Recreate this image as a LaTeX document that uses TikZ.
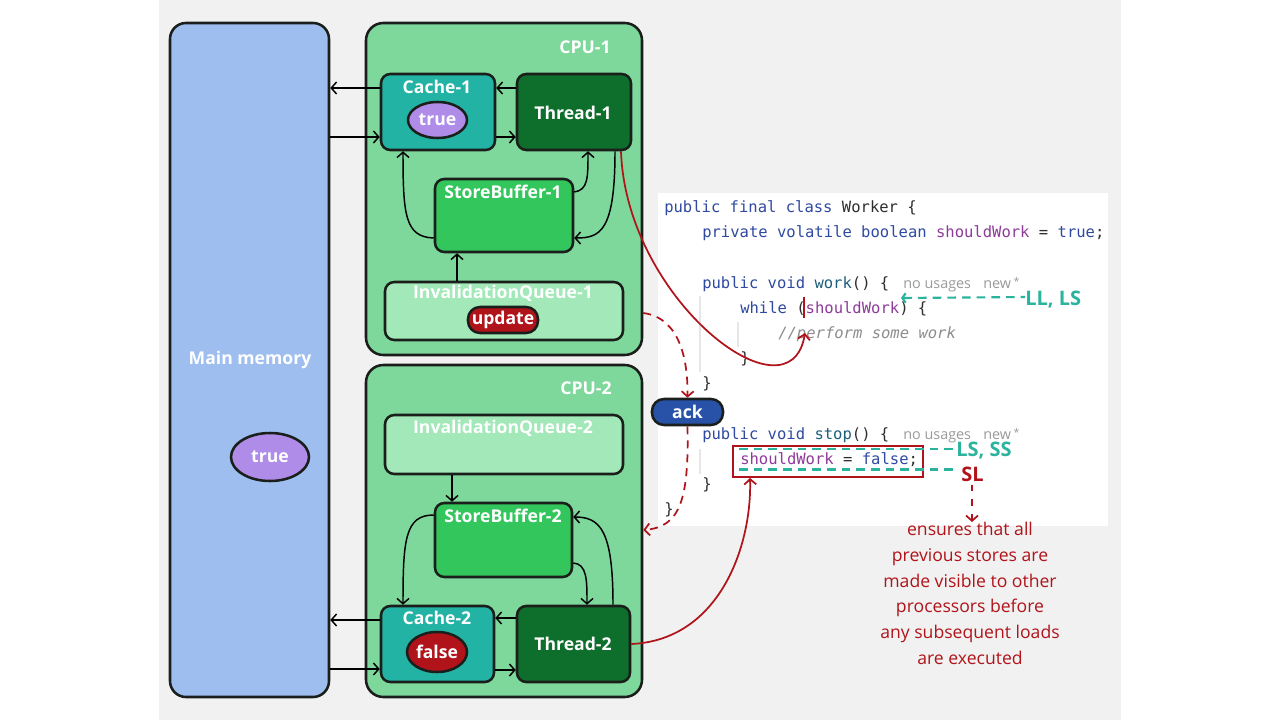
\documentclass[tikz,border=0pt]{standalone}
\usepackage{fontspec}
\setmainfont{Open Sans}
\setmonofont{DejaVu Sans Mono}
\usetikzlibrary{arrows.meta,shapes.geometric}
\definecolor{bgGray}{HTML}{F1F1F1}
\definecolor{memFill}{HTML}{9EBEF0}
\definecolor{cpuFill}{HTML}{7ED79B}
\definecolor{cacheFill}{HTML}{22B3A5}
\definecolor{threadFill}{HTML}{0E6F2C}
\definecolor{sbFill}{HTML}{33C65C}
\definecolor{iqFill}{HTML}{A2E8B8}
\definecolor{purpleFill}{HTML}{AE8CE8}
\definecolor{darkRed}{HTML}{B0141A}
\definecolor{ackBlue}{HTML}{2852A8}
\definecolor{edgeCol}{HTML}{1B1F1C}
\definecolor{kwBlue}{HTML}{2F4AA0}
\definecolor{fieldPurple}{HTML}{8E3B99}
\definecolor{methodTeal}{HTML}{1D5E7C}
\definecolor{codeDark}{HTML}{2E2E2E}
\definecolor{commentGray}{HTML}{8C8C8C}
\definecolor{hintGray}{HTML}{9A9A9A}
\definecolor{annTeal}{HTML}{2BB39E}
\definecolor{guideGray}{HTML}{E6E6E6}
\newcommand{\kw}[1]{\textcolor{kwBlue}{#1}}
\newcommand{\fld}[1]{\textcolor{fieldPurple}{#1}}
\newcommand{\mth}[1]{\textcolor{methodTeal}{#1}}
\begin{document}
\begin{tikzpicture}[x=0.75pt,y=-0.75pt,
  box/.style={draw=edgeCol, line width=1.9pt, rounded corners=7pt, inner sep=0pt},
  sz/.style 2 args={minimum width=#1*0.75pt, minimum height=#2*0.75pt},
  lbl/.style={text=white, font=\bfseries\fontsize{13.2}{16}\selectfont, inner sep=0pt},
  val/.style={draw=edgeCol, line width=1.9pt, inner sep=0pt, text=white, font=\bfseries\fontsize{13.2}{16}\selectfont},
  conn/.style={draw=black, line width=1.1pt, -{Straight Barb[length=4pt,width=9pt]}},
  redconn/.style={draw=darkRed, line width=1.3pt, -{Straight Barb[length=4pt,width=9pt]}},
  reddash/.style={redconn, dash pattern=on 6pt off 4.5pt},
  tealdash/.style={draw=annTeal, line width=1.6pt, dash pattern=on 6.5pt off 4.5pt},
  codeline/.style={anchor=base west, inner sep=0pt, text=codeDark, font=\ttfamily\fontsize{11.65}{14}\selectfont},
  hint/.style={anchor=base west, inner sep=0pt, text=hintGray, font=\fontsize{10.8}{13}\selectfont},
  ann/.style={anchor=west, inner sep=0pt, font=\bfseries\fontsize{15}{17}\selectfont}
]
\useasboundingbox (0,0) rectangle (1280,720);
\fill[bgGray] (159,0) rectangle (1121,720);
\fill[white] (658,193) rectangle (1108,526);
% indent guides
\draw[guideGray, line width=0.8pt] (700,296) -- (700,372);
\draw[guideGray, line width=0.8pt] (738,322) -- (738,347);
\draw[guideGray, line width=0.8pt] (700,449) -- (700,474);

% main memory
\node[box, rounded corners=12pt, fill=memFill, sz={159}{674}] (mem) at (249.5,360) {};
\node[lbl] (memlbl) at (250,360) {Main memory};
\node[val, ellipse, fill=purpleFill, sz={78}{48}] (memval) at (270,457) {true};

% CPU-1
\node[box, rounded corners=13pt, fill=cpuFill, sz={276}{332}] (cpu1) at (504,189) {};
\node[lbl] (cpu1lbl) at (585,47) {CPU-1};
\node[box, fill=cacheFill, sz={114}{76}] (cache1) at (438,112) {};
\node[lbl] (cache1lbl) at (437,87) {Cache-1};
\node[val, ellipse, fill=purpleFill, sz={59}{36}] (cache1val) at (437.5,120) {true};
\node[box, fill=threadFill, sz={114}{76}] (thread1) at (574,112) {};
\node[lbl] (thread1lbl) at (573,113) {Thread-1};
\node[box, fill=sbFill, sz={138}{73}] (sb1) at (504,215.5) {};
\node[lbl] (sb1lbl) at (503,192) {StoreBuffer-1};
\node[box, fill=iqFill, sz={238}{58}] (iq1) at (504,311) {};
\node[lbl] (iq1lbl) at (503,293) {InvalidationQueue-1};
\node[val, rounded corners=9pt, fill=darkRed, sz={70}{26}] (upd) at (503,320) {update};

% CPU-2
\node[box, rounded corners=13pt, fill=cpuFill, sz={276}{332}] (cpu2) at (504,531) {};
\node[lbl] (cpu2lbl) at (586,388) {CPU-2};
\node[box, fill=iqFill, sz={238}{59}] (iq2) at (504,444.5) {};
\node[lbl] (iq2lbl) at (503,428) {InvalidationQueue-2};
\node[box, fill=sbFill, sz={137}{74}] (sb2) at (503.5,540) {};
\node[lbl] (sb2lbl) at (503,516) {StoreBuffer-2};
\node[box, fill=cacheFill, sz={113}{76}] (cache2) at (437.5,644) {};
\node[lbl] (cache2lbl) at (437,618) {Cache-2};
\node[val, ellipse, fill=darkRed, sz={60}{40}] (cache2val) at (437,652) {false};
\node[box, fill=threadFill, sz={113}{76}] (thread2) at (573.5,644) {};
\node[lbl] (thread2lbl) at (573,644) {Thread-2};

% connectors CPU-1
\draw[conn] (cache1.west |- 0,88) -- (mem.east |- 0,88);
\draw[conn] (mem.east |- 0,137) -- (cache1.west |- 0,137);
\draw[conn] (thread1.west |- 0,88) -- (cache1.east |- 0,88);
\draw[conn] (cache1.east |- 0,137) -- (thread1.west |- 0,137);
\draw[conn] (sb1.west |- 0,238) .. controls (405,237) and (403,215) .. (cache1.south -| 403,0);
\draw[conn] (sb1.east |- 0,192) .. controls (588,190) and (588,178) .. (thread1.south -| 588,0);
\draw[conn] (thread1.south -| 615,0) .. controls (615,232) and (600,238) .. (sb1.east |- 0,238);
\draw[conn] (iq1.north -| 457,0) -- (sb1.south -| 457,0);

% connectors CPU-2
\draw[conn] (iq2.south -| 452,0) -- (sb2.north -| 452,0);
\draw[conn] (sb2.west |- 0,515) .. controls (405,515) and (403,540) .. (cache2.north -| 403,0);
\draw[conn] (sb2.east |- 0,563) .. controls (587,564) and (587,580) .. (thread2.north -| 587,0);
\draw[conn] (thread2.north -| 613,0) .. controls (613,530) and (600,517) .. (sb2.east |- 0,517);
\draw[conn] (thread2.west |- 0,618) -- (cache2.east |- 0,618);
\draw[conn] (cache2.east |- 0,670) -- (thread2.west |- 0,670);
\draw[conn] (cache2.west |- 0,620) -- (mem.east |- 0,620);
\draw[conn] (mem.east |- 0,669) -- (cache2.west |- 0,669);

% code
\node[codeline] (c1) at (664,212.5) {\kw{public final class} Worker \{};
\node[codeline] (c2) at (702,237.7) {\kw{private volatile boolean} \fld{shouldWork} = \kw{true};};
\node[codeline] (c4) at (702,288.1) {\kw{public void} \mth{work}() \{};
\node[hint] (h4) at (903,288.1) {no usages\hspace{0.85em}new\,\raisebox{0.35ex}{\fontsize{8}{9}\selectfont*}};
\node[codeline] (c5) at (740,313.3) {\kw{while} (\fld{shouldWork}) \{};
\node[codeline, text=commentGray] (c6) at (778,338.5) {\itshape //perform some work};
\node[codeline] (c7) at (740,363.7) {\}};
\node[codeline] (c8) at (702,388.9) {\}};
\node[codeline] (c10) at (702,439.3) {\kw{public void} \mth{stop}() \{};
\node[hint] (h10) at (903,439.3) {no usages\hspace{0.85em}new\,\raisebox{0.35ex}{\fontsize{8}{9}\selectfont*}};
\node[codeline] (c11) at (740,464.5) {\fld{shouldWork} = \kw{false};};
\node[codeline] (c12) at (702,489.7) {\}};
\node[codeline] (c13) at (664,514.9) {\}};

% cursor mark
\coordinate (curTop) at (804,297);
\coordinate (cursor) at (805,333);
\draw[darkRed, line width=1.6pt] (curTop) -- (804,318);

% red box
\node[draw=darkRed, line width=1.5pt, inner sep=0pt, sz={190}{31}] (swbox) at (828,461.5) {};

% teal annotations
\node[ann, text=annTeal] (llls) at (1025,300) {LL, LS};
\draw[tealdash, {Straight Barb[length=2.5pt,width=7pt]}-] (901,298) -- (llls.west |- 0,297);
\node[ann, text=annTeal] (lsss) at (956,450.5) {LS, SS};
\draw[tealdash] (739,449) -- (lsss.west |- 0,449);
\node[ann, text=darkRed] (sl) at (961,474) {SL};
\draw[tealdash] (739,469.5) -- (955,469.5);

% explanation
\node[anchor=north, align=center, inner sep=0pt, text=darkRed, font=\fontsize{13.2}{19.3}\selectfont] (expl) at (970,522) {ensures that all\\previous stores are\\made visible to other\\processors before\\any subsequent loads\\are executed};
\draw[redconn, dash pattern=on 5pt off 6pt] (sl.south -| 972,0) ++(0,3) -- (expl.north -| 972,0);

% red curves
\draw[redconn] (thread1.south -| 621,0) .. controls (626,300) and (790,425) .. (cursor);
\draw[redconn] (thread2.east) .. controls (720,640) and (752,545) .. (swbox.south -| 750,0);

% ack
\node[val, rounded corners=9pt, fill=ackBlue, sz={71}{26}] (ack) at (687.5,412) {ack};
\draw[reddash] (cpu1.east |- 0,313) .. controls (680,318) and (688,360) .. (ack.north);
\draw[reddash] (ack.south) .. controls (689,500) and (680,527) .. (cpu2.east |- 0,530);
\end{tikzpicture}
\end{document}
